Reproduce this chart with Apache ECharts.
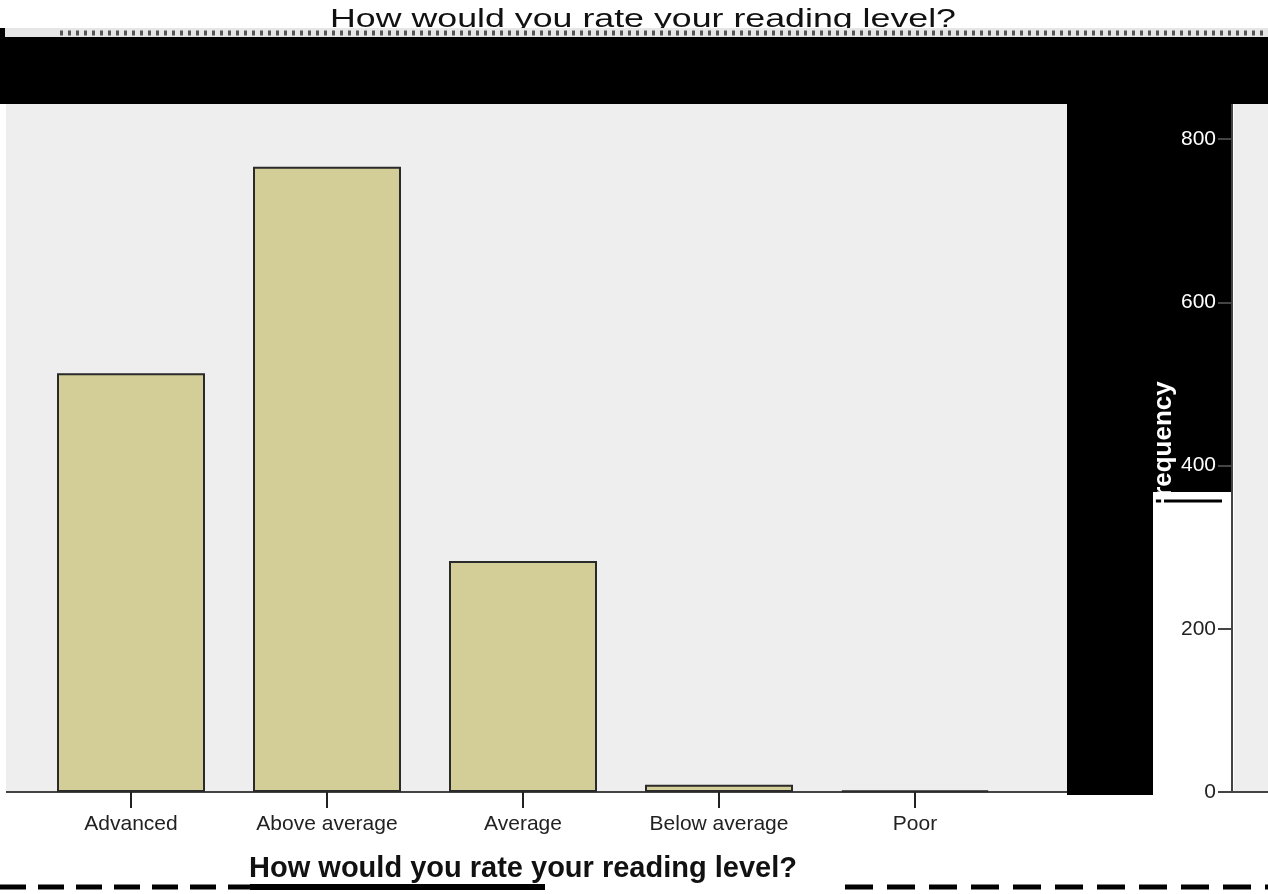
<!DOCTYPE html>
<html>
<head>
<meta charset="utf-8">
<script src="https://cdn.jsdelivr.net/npm/echarts@6/dist/echarts.min.js"></script>
<style>html,body{margin:0;padding:0;background:#fff}#c{width:1268px;height:894px}</style>
</head>
<body>
<div id="c"></div>
<script>
const categories = ['Advanced', 'Above average', 'Average', 'Below average', 'Poor'];
const frequencies = [513, 766, 283, 9, 2];
const yTicks = [0, 200, 400, 600, 800];
const titleText = 'How would you rate your reading level?';
const yName = 'Frequency';

const FONT = 'Arial, "Liberation Sans", sans-serif';
const chart = echarts.init(document.getElementById('c'), null, {renderer: 'canvas'});

const option = {
  backgroundColor: '#ffffff',
  animation: false,
  grid: {left: 33, right: 255, top: 104, bottom: 102, containLabel: false, outerBoundsMode: 'none'},
  xAxis: {
    type: 'category',
    data: categories,
    name: titleText,
    nameLocation: 'middle',
    nameGap: 62,
    nameTextStyle: {fontFamily: FONT, fontSize: 29, fontWeight: 'bold', color: '#111'},
    axisLine: {show: true, lineStyle: {color: '#444', width: 2}},
    axisTick: {show: true, alignWithLabel: true, length: 16, lineStyle: {color: '#222', width: 2}},
    axisLabel: {fontFamily: FONT, fontSize: 21, color: '#222', margin: 22, interval: 0},
    splitLine: {show: false}
  },
  yAxis: {
    type: 'value',
    position: 'right',
    offset: 219,
    min: 0,
    max: 843,
    interval: 200,
    axisLine: {show: true, lineStyle: {color: '#444', width: 2}},
    axisTick: {show: true, inside: true, length: 14, lineStyle: {color: '#444', width: 2}},
    axisLabel: {
      inside: true, margin: 16, showMaxLabel: false,
      fontFamily: FONT, fontSize: 21,
      color: function (v) { return Number(v) >= 400 ? '#ffffff' : '#222222'; },
      formatter: function (v) { return yTicks.indexOf(v) >= 0 ? String(v) : ''; }
    },
    splitLine: {show: false}
  },
  series: [{
    type: 'bar',
    data: frequencies,
    barWidth: 148,
    itemStyle: {color: '#D3CE97', borderColor: '#2a2a2a', borderWidth: 2}
  }],
  graphic: [
    {type: 'rect', z: -10, shape: {x: 6, y: 104, width: 1061, height: 688}, style: {fill: '#EEEEEE'}},
    {type: 'rect', z: -10, shape: {x: 1234, y: 104, width: 34, height: 688}, style: {fill: '#EEEEEE'}},
    {type: 'rect', z: -9, shape: {x: 1067, y: 104, width: 86, height: 691}, style: {fill: '#000'}},
    {type: 'rect', z: -9, shape: {x: 1153, y: 104, width: 79, height: 388}, style: {fill: '#000'}},
    {type: 'line', z: -8, shape: {x1: 1153, y1: 501, x2: 1222, y2: 501}, style: {stroke: '#000', lineWidth: 3}},
    {type: 'line', z: -8, shape: {x1: 6, y1: 792, x2: 1067, y2: 792}, style: {stroke: '#444', lineWidth: 2}},
    {type: 'line', z: -8, shape: {x1: 1232, y1: 792, x2: 1268, y2: 792}, style: {stroke: '#444', lineWidth: 2}},
    {type: 'text', z: 1, x: 1164, y: 447, rotation: Math.PI / 2,
      style: {text: yName, x: 0, y: 0, align: 'center', verticalAlign: 'middle', font: 'bold 26px ' + FONT, fill: '#fff'}},
    {type: 'text', z: 1, x: 643, y: 20, scaleX: 1.43, scaleY: 1,
      style: {text: titleText, x: 0, y: 0, align: 'center', verticalAlign: 'middle', font: '25px ' + FONT, fill: '#111'}},
    {type: 'rect', z: 2, shape: {x: 0, y: 37, width: 1268, height: 67}, style: {fill: '#000'}},
    {type: 'rect', z: 2, shape: {x: 5, y: 28, width: 1263, height: 9}, style: {fill: '#E6E6E6'}},
    {type: 'rect', z: 2, shape: {x: 0, y: 28, width: 5, height: 9}, style: {fill: '#000'}},
    {type: 'line', z: 3, shape: {x1: 60, y1: 33, x2: 1268, y2: 33}, style: {stroke: '#555', lineWidth: 5, lineDash: [3, 5]}},
    {type: 'line', z: 3, shape: {x1: 0, y1: 887, x2: 250, y2: 887}, style: {stroke: '#000', lineWidth: 5, lineDash: [26, 12]}},
    {type: 'line', z: 3, shape: {x1: 250, y1: 887, x2: 545, y2: 887}, style: {stroke: '#000', lineWidth: 6}},
    {type: 'line', z: 3, shape: {x1: 845, y1: 887, x2: 1268, y2: 887}, style: {stroke: '#000', lineWidth: 5, lineDash: [28, 14]}}
  ]
};
chart.setOption(option);
</script>
</body>
</html>
